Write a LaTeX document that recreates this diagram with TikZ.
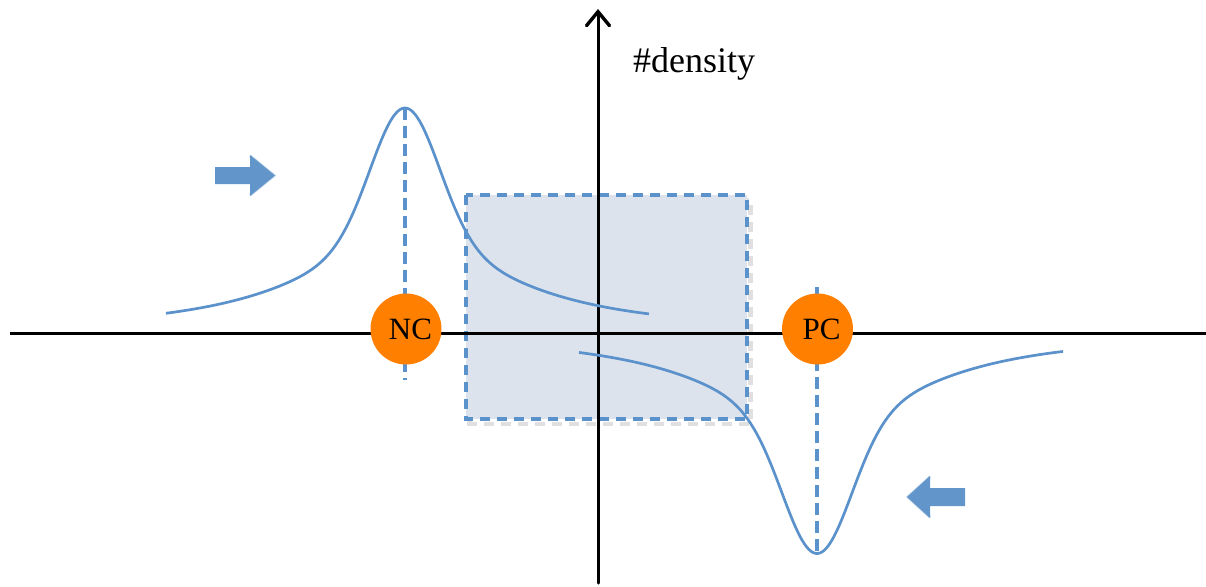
\documentclass[tikz,border=0pt]{standalone}
\usepackage{fontspec}
\setmainfont{Liberation Serif}
\usetikzlibrary{arrows.meta}
\definecolor{curveblue}{RGB}{91,146,203}
\definecolor{arrowblue}{RGB}{98,150,203}
\definecolor{boxfill}{RGB}{221,227,236}
\definecolor{ncorange}{RGB}{255,127,0}
\begin{document}
\begin{tikzpicture}[x=1pt,y=-1pt,
  declare function={gl(\d)=127*exp(-(\d/47)*(\d/47))+98/(1+(\d/120)*(\d/120));},
  axis/.style={line width=3pt, black},
  curve/.style={line width=2.7pt, curveblue},
  guide/.style={line width=3.3pt, curveblue, dash pattern=on 12pt off 6pt},
  boxdash/.style={line width=3.3pt, dash pattern=on 10pt off 7pt},
  marker/.style={circle, fill=ncorange, minimum size=71pt, inner sep=0pt, font=\fontsize{31}{33}\selectfont},
  glow/.style={draw=curveblue!35, line width=3pt, line join=miter},
  blockarrow/.style={fill=arrowblue},
]
\useasboundingbox (0,0) rectangle (1206,586);
% shaded region
\draw[boxdash, black!12, line width=4.5pt] (469.5,200) rectangle (750.5,424);
\draw[boxdash, fill=boxfill, draw=curveblue] (466,195) rectangle (747,419);
% axes
\coordinate (xl) at (10,333);
\coordinate (xr) at (1206,333);
\coordinate (yb) at (598,583);
\coordinate (yt) at (598,9);
\draw[axis] (xl) -- (xr);
\draw[axis, line cap=round, -{Straight Barb[length=14pt, width=23pt, line cap=round, line width=3.4pt]}] (yb) -- (yt);
\node[anchor=base west, inner sep=0pt, font=\fontsize{36}{40}\selectfont] (lbl) at (633,73) {\#density};
% guides
\coordinate (ncTop) at (405,108);
\coordinate (ncBot) at (405,380);
\coordinate (pcTop) at (817,287);
\coordinate (pcBot) at (817,553);
\draw[guide] (ncTop) -- (ncBot);
\draw[guide] (pcTop) -- (pcBot);
% curves
\draw[curve] plot[domain=166:649, samples=220, smooth] (\x, {333 - gl(\x-405)});
\draw[curve] plot[domain=579:1063, samples=220, smooth] (\x, {333 + 0.98*gl(817-\x)});
% markers
\node[marker] (nc) at (406,329) {\hspace*{9pt}NC};
\node[marker] (pc) at (817.5,329) {\hspace*{8pt}PC};
% block arrows
\draw[glow] (250,156) -- (274,175.5) -- (250,195);
\fill[blockarrow] (215,167) -- (250,167) -- (250,155) -- (275,175.5) -- (250,196) -- (250,184) -- (215,184) -- cycle;
\draw[glow] (930,477) -- (908,497) -- (930,517);
\fill[blockarrow] (965,488) -- (930,488) -- (930,476) -- (907,497) -- (930,518) -- (930,506) -- (965,506) -- cycle;
\end{tikzpicture}
\end{document}
